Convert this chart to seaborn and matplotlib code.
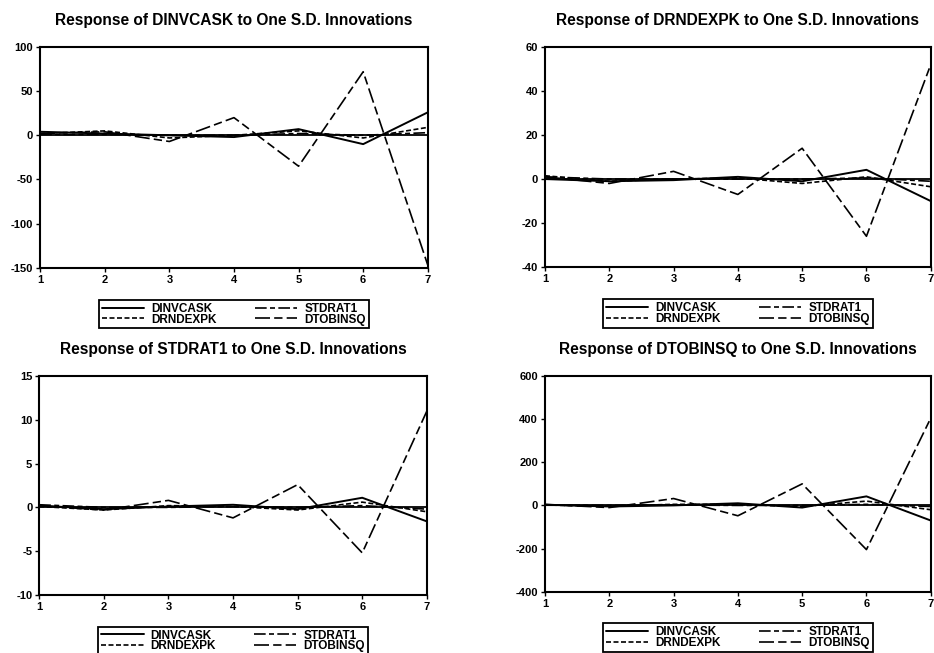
import pandas as pd
import seaborn as sns
import matplotlib.pyplot as plt

sns.set_theme(style="white")
plt.rcParams['font.family'] = ['Liberation Sans', 'DejaVu Sans']
plt.rcParams['axes.unicode_minus'] = False
plt.rcParams['text.color'] = 'black'
plt.rcParams['xtick.color'] = 'black'
plt.rcParams['ytick.color'] = 'black'

# 数据
periods = [1, 2, 3, 4, 5, 6, 7]
shocks = ['DINVCASK', 'DRNDEXPK', 'STDRAT1', 'DTOBINSQ']

# Response of DINVCASK
resp_dinvcask = {
    'DINVCASK': [4, 2, 0, -2, 7, -10, 26],
    'DRNDEXPK': [2, 5, -3, 0, 5, -3, 9],
    'STDRAT1': [1, 1, 0, 0, 2, 0, 3],
    'DTOBINSQ': [2, 4, -7, 20, -35, 72, -147],
}
# Response of DRNDEXPK
resp_drndexpk = {
    'DINVCASK': [0, -1, -0.5, 1, -1, 4.2, -10],
    'DRNDEXPK': [1.5, -1, 0, 0.5, -2, 1, -3.5],
    'STDRAT1': [1, 0, 0, 0, 0, 0.5, -1],
    'DTOBINSQ': [1, -2, 3.5, -7, 14, -26, 52],
}
# Response of STDRAT1
resp_stdrat1 = {
    'DINVCASK': [0.2, -0.2, 0.1, 0.3, -0.2, 1.1, -1.6],
    'DRNDEXPK': [0.1, -0.3, 0.2, 0.1, -0.3, 0.6, -0.5],
    'STDRAT1': [0.3, 0.0, 0.0, 0.1, 0.0, 0.2, -0.2],
    'DTOBINSQ': [0.2, -0.3, 0.8, -1.2, 2.6, -5.2, 11],
}
# Response of DTOBINSQ
resp_dtobinsq = {
    'DINVCASK': [3, -5, 0, 10, -10, 42, -70],
    'DRNDEXPK': [2, -3, 5, 5, -5, 20, -20],
    'STDRAT1': [1, 0, 2, 0, 0, 5, -5],
    'DTOBINSQ': [5, -10, 32, -48, 100, -205, 405],
}

titles = ['Response of DINVCASK to One S.D. Innovations',
          'Response of DRNDEXPK to One S.D. Innovations',
          'Response of STDRAT1 to One S.D. Innovations',
          'Response of DTOBINSQ to One S.D. Innovations']
panels = [resp_dinvcask, resp_drndexpk, resp_stdrat1, resp_dtobinsq]
ylims = [(-150, 100), (-40, 60), (-10, 15), (-400, 600)]
yticks = [[-150, -100, -50, 0, 50, 100], [-40, -20, 0, 20, 40, 60],
          [-10, -5, 0, 5, 10, 15], [-400, -200, 0, 200, 400, 600]]

dashes = {'DINVCASK': '', 'DRNDEXPK': (3, 1.5),
          'STDRAT1': (7, 2, 3, 2), 'DTOBINSQ': (9, 2.5, 5, 2.5)}
widths = {'DINVCASK': 1.4, 'DRNDEXPK': 1.2, 'STDRAT1': 1.2, 'DTOBINSQ': 1.2}

fig = plt.figure(figsize=(9.34, 6.53), dpi=100)
boxes = [[0.043, 0.590, 0.415, 0.338],
         [0.5835, 0.591, 0.413, 0.337],
         [0.042, 0.089, 0.415, 0.335],
         [0.5835, 0.094, 0.413, 0.330]]

for i in range(4):
    ax = fig.add_axes(boxes[i])
    df = pd.DataFrame({'period': periods * 4,
                       'shock': [s for s in shocks for _ in periods],
                       'value': sum([panels[i][s] for s in shocks], [])})
    ax.axhline(0, color='black', lw=1.3, zorder=1)
    sns.lineplot(data=df, x='period', y='value', hue='shock', style='shock',
                 hue_order=shocks, style_order=shocks,
                 palette=['black'] * 4, dashes=dashes, ax=ax, lw=1.2)
    for line, s in zip(ax.get_lines()[1:5], shocks):
        line.set_linewidth(widths[s])
    ax.set_xlim(1, 7)
    ax.set_ylim(*ylims[i])
    ax.set_xticks(periods)
    ax.set_yticks(yticks[i])
    ax.set_xlabel('')
    ax.set_ylabel('')
    ax.set_title(titles[i], fontsize=11.2, fontweight='bold', pad=16,
                 color='black')
    ax.tick_params(axis='both', direction='out', length=3, width=1,
                   labelsize=8, pad=2, left=True, bottom=True)
    for lbl in ax.get_xticklabels() + ax.get_yticklabels():
        lbl.set_fontweight('bold')
    for sp in ax.spines.values():
        sp.set_color('black')
        sp.set_linewidth(1.5)
    ax.legend_.remove()
    handles = ax.get_lines()[1:5]
    # 图例: 两列, 方框
    leg = ax.legend(handles, shocks, loc='upper center',
                    bbox_to_anchor=(0.5, -0.145), ncol=2, frameon=True,
                    fancybox=False, edgecolor='black', framealpha=1,
                    prop={'size': 8.5, 'weight': 'bold'},
                    handlelength=3.6, handletextpad=0.6, columnspacing=3.2,
                    labelspacing=-0.1, borderpad=0.25, borderaxespad=0)
    leg.get_frame().set_linewidth(1.3)

plt.savefig('out.png', dpi=100)
plt.close()
